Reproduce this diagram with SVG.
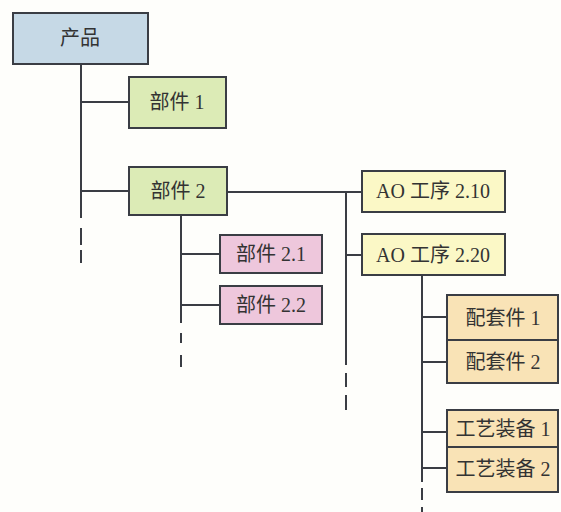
<svg xmlns="http://www.w3.org/2000/svg" width="561" height="512" viewBox="0 0 561 512">
<style>
.box{stroke:#3a3d44;stroke-width:2}
.blue{fill:#c6d9e6}
.green{fill:#dcebb6}
.pink{fill:#eec7dc}
.yellow{fill:#fbf8c6}
.orange{fill:#f9e3b6}
.t{font-family:"Liberation Serif","Noto Sans CJK SC",serif;font-size:20px;fill:#333;text-anchor:middle;dominant-baseline:central}
.ln{stroke:#3a3d44;stroke-width:2;fill:none}
</style>
<rect width="561" height="512" fill="#fefefb"/>
<g id="connectors">
<path class="ln" d="M81 64V218M81 228V245M81 250V263"/>
<path class="ln" d="M81 102H129M81 191H129"/>
<path class="ln" d="M227 192H362M346 192V365M346 373V387M346 395V410M346 255H362"/>
<path class="ln" d="M181 215V323M181 333V343M181 355V367M181 254H220M181 305H220"/>
<path class="ln" d="M422 275V482M422 488V500M422 507V512M422 317H447M422 362H447M422 432H447M422 468H447"/>
</g>
<g id="n-product"><rect class="box blue" x="13" y="13" width="135" height="51"/><text class="t" x="80" y="38">产品</text></g>
<g id="n-part1"><rect class="box green" x="129" y="77" width="97" height="51"/><text class="t" x="177" y="102">部件 1</text></g>
<g id="n-part2"><rect class="box green" x="129" y="167" width="98" height="48"/><text class="t" x="178" y="191">部件 2</text></g>
<g id="n-part21"><rect class="box pink" x="220" y="235" width="102" height="38"/><text class="t" x="271" y="254">部件 2.1</text></g>
<g id="n-part22"><rect class="box pink" x="220" y="286" width="102" height="38"/><text class="t" x="271" y="305">部件 2.2</text></g>
<g id="n-ao210"><rect class="box yellow" x="362" y="171" width="143" height="41"/><text class="t" x="433" y="191">AO 工序 2.10</text></g>
<g id="n-ao220"><rect class="box yellow" x="362" y="234" width="143" height="41"/><text class="t" x="433" y="255">AO 工序 2.20</text></g>
<g id="n-kit1"><rect class="box orange" x="447" y="295" width="111" height="45"/><text class="t" x="503" y="318">配套件 1</text></g>
<g id="n-kit2"><rect class="box orange" x="447" y="340" width="111" height="43"/><text class="t" x="503" y="362">配套件 2</text></g>
<g id="n-tool1"><rect class="box orange" x="447" y="410" width="111" height="37"/><text class="t" x="503" y="429">工艺装备 1</text></g>
<g id="n-tool2"><rect class="box orange" x="447" y="447" width="111" height="45"/><text class="t" x="503" y="469">工艺装备 2</text></g>
</svg>
